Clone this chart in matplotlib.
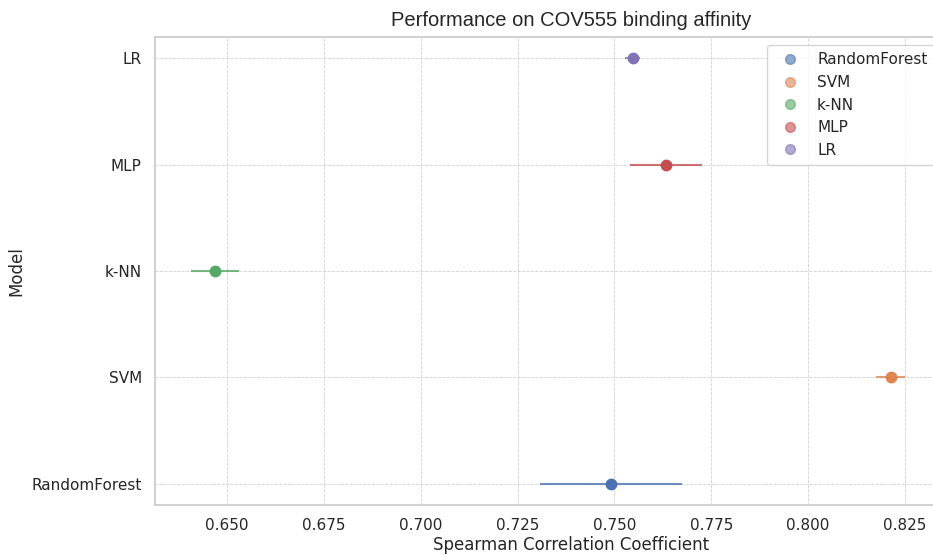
import matplotlib
matplotlib.use("Agg")
import matplotlib.pyplot as plt
import seaborn as sns
from matplotlib.lines import Line2D

sns.set_theme(style="whitegrid")
plt.rcParams['font.family'] = ['DejaVu Sans']

models = ["RandomForest", "SVM", "k-NN", "MLP", "LR"]
means = [0.7491, 0.8213, 0.6469, 0.7633, 0.7547]
errors = [0.0184, 0.0037, 0.0063, 0.0092, 0.0020]
palette = sns.color_palette("deep", len(models))

fig = plt.figure(figsize=(9.33, 5.55), dpi=100)
ax = fig.add_axes([155 / 933, 1 - 505 / 555, (987 - 155) / 933, (505 - 37) / 555])

for i, (m, mu, err) in enumerate(zip(models, means, errors)):
    ax.errorbar(mu, i, xerr=err, fmt="none", ecolor=palette[i], elinewidth=1.5,
                alpha=0.8, capsize=0, zorder=3)
    ax.plot(mu, i, "o", color=palette[i], markersize=7.5, zorder=4)

ax.set_yticks(range(len(models)))
ax.set_yticklabels(models, fontsize=11)
ax.set_ylim(-0.2, 4.2)
ax.set_xlim(0.6314, 0.8462)
ax.set_xticks([0.650, 0.675, 0.700, 0.725, 0.750, 0.775, 0.800, 0.825])
ax.set_xticklabels(["0.650", "0.675", "0.700", "0.725", "0.750", "0.775", "0.800", "0.825"], fontsize=11)
ax.grid(True, linestyle="--", linewidth=0.6, color="#d0d0d0")
for s in ax.spines.values():
    s.set_color("#cccccc")
    s.set_linewidth(1.25)

ax.set_xlabel("Spearman Correlation Coefficient", fontsize=12, labelpad=2)
ax.set_ylabel("Model", fontsize=12)
ax.set_title("Performance on COV555 binding affinity", fontsize=14.5,
             family=["Liberation Sans"], pad=8)

handles = [Line2D([], [], marker="o", linestyle="none", color=palette[i],
                  alpha=0.6, markersize=7) for i in range(len(models))]
fig.legend(handles, models, loc="upper left", bbox_to_anchor=(759 / 933, 1 - 37 / 555),
           fontsize=11, frameon=True, handletextpad=0.8, borderpad=0.5)

fig.savefig("out.png", dpi=100)
